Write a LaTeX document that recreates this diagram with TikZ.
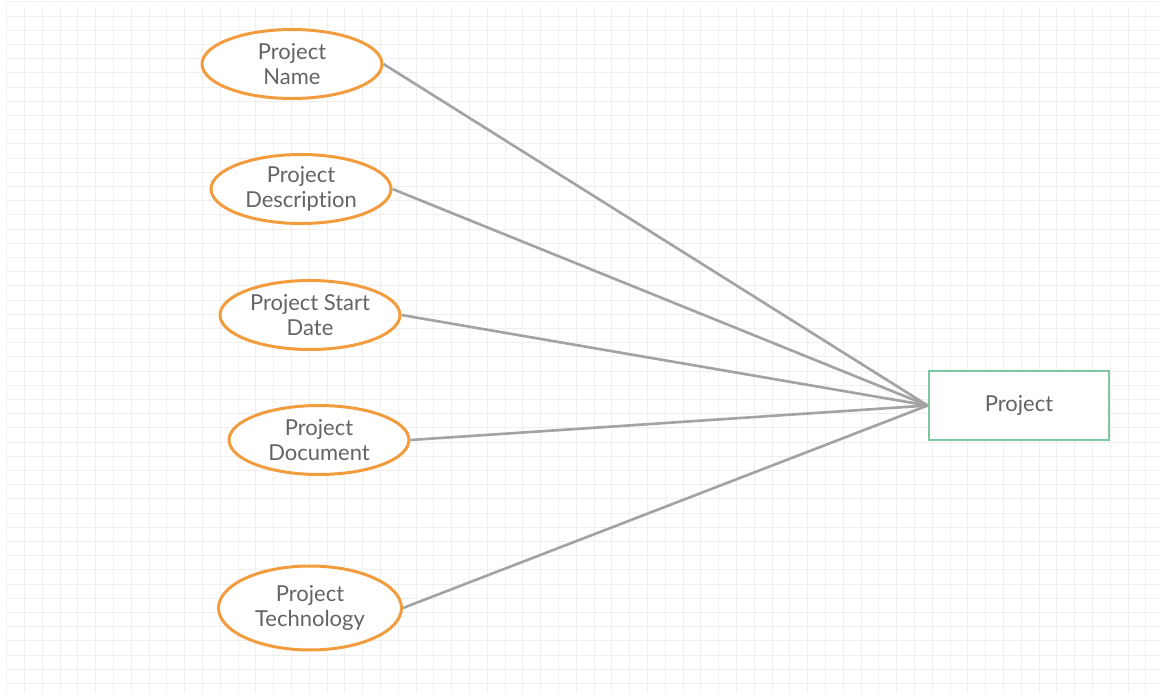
\documentclass[tikz,border=0pt]{standalone}
\usepackage{fontspec}
\setmainfont{Lato}[Ligatures=NoCommon]
\usepackage{xcolor}
\usetikzlibrary{shapes.geometric,positioning}

\definecolor{attrorange}{HTML}{F39C3E}
\definecolor{entgreen}{HTML}{7CC8A2}
\definecolor{linkgray}{HTML}{A3A3A3}
\definecolor{txtgray}{HTML}{646464}
\definecolor{gridgray}{HTML}{EFEFEF}

\tikzset{
  attr/.style={ellipse, draw=attrorange, line width=1.7pt, fill=white,
    minimum width=3.6cm, minimum height=1.38cm, inner sep=0pt,
    align=center, text=txtgray, font=\fontsize{12.5}{14}\selectfont},
  entity/.style={rectangle, draw=entgreen, line width=1.5pt, fill=white,
    minimum width=3.6cm, minimum height=1.38cm, text=txtgray,
    font=\fontsize{12.5}{14}\selectfont},
  link/.style={draw=linkgray, line width=1.5pt},
}

\begin{document}
\begin{tikzpicture}[x=0.02cm, y=-0.02cm]
  % Khung và lưới nền
  \useasboundingbox (0,0) rectangle (1167,700);
  \fill[white] (0,0) rectangle (1167,700);
  \foreach \i in {0,...,64}
    \draw[gridgray, line width=0.5pt] (6.7+17.8*\i,7) -- (6.7+17.8*\i,693);
  \foreach \j in {0,...,48}
    \draw[gridgray, line width=0.5pt] (6,1.8+14.2*\j) -- (1161,1.8+14.2*\j);

  % Thực thể
  \node[entity] (project) at (1019,405.5) {Project};

  % Thuộc tính
  \node[attr] (pname) at (292,64) {Project\\Name};
  \node[attr] (pdesc) at (301,189) {Project\\Description};
  \node[attr] (pstart) at (310,315) {Project Start\\Date};
  \node[attr] (pdoc) at (319,440) {Project\\Document};
  \node[attr, minimum width=3.66cm, minimum height=1.68cm] (ptech) at (310,608) {Project\\Technology};

  % Nối thuộc tính với thực thể
  \foreach \a in {pname,pdesc,pstart,pdoc,ptech}
    \draw[link] (\a.east) -- (project.west);
\end{tikzpicture}
\end{document}
